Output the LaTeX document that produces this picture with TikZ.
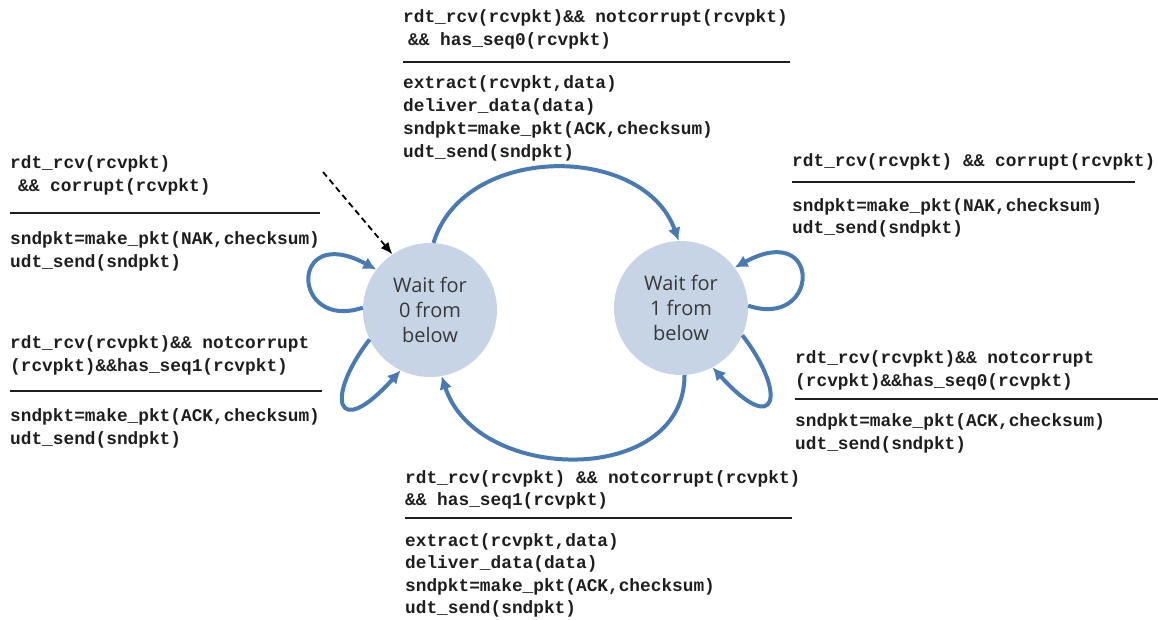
\documentclass[tikz,border=0pt]{standalone}
\usepackage{fontspec}
\setmonofont{Liberation Mono}
\newfontfamily\statefnt{Open Sans}
\usetikzlibrary{arrows.meta}
\definecolor{stfill}{RGB}{198,212,229}
\definecolor{arrc}{RGB}{72,122,180}
\definecolor{txtc}{RGB}{30,30,30}
\newcommand\lblfont{\ttfamily\bfseries\fontsize{17.8}{23}\selectfont}
\tikzset{
  lbl/.style={anchor=base west, inner sep=0pt, font=\lblfont, text=txtc},
  state/.style={circle, fill=stfill, minimum size=134pt, inner sep=0pt, align=center,
    font=\statefnt\fontsize{20}{25}\selectfont, text=black!78},
  tr/.style={draw=arrc, line width=4pt, -{Latex[length=13pt,width=13pt]}},
  initarr/.style={draw=black, line width=1.8pt, dash pattern=on 6pt off 4pt, -{Latex[length=12pt,width=10pt]}},
  rulel/.style={draw=txtc, line width=1.3pt},
}
\begin{document}
\begin{tikzpicture}[x=1pt,y=-1pt]
\useasboundingbox (0,0) rectangle (1158,619);
% states
\node[state] (s0) at (430,310) {Wait for\\0 from\\below};
\node[state] (s1) at (681,308) {Wait for\\1 from\\below};
% transitions
\draw[tr] (s0.87) .. controls +(30,-100) and +(-35,-98) .. (s1.92);
\draw[tr] (s1.-87) .. controls +(0,112) and +(35,108) .. (s0.-80);
\draw[tr] (s0.178) .. controls +(-72,24) and +(-88,-48) .. (s0.143);
\draw[tr] (s1.2) .. controls +(72,24) and +(88,-48) .. (s1.37);
\draw[tr] (s0.206) .. controls +(-45,58) and +(-65,72) .. (s0.244);
\draw[tr] (s1.-24) .. controls +(45,58) and +(65,72) .. (s1.-62);
\coordinate (init) at (323,172);
\draw[initarr] (init) -- (s0.124);
% top label
\node[lbl] (ta1) at (403,22) {rdt\_rcv(rcvpkt)\&\& notcorrupt(rcvpkt)};
\node[lbl] (ta2) at (408,45) {\&\& has\_seq0(rcvpkt)};
\draw[rulel] (403,62) -- (790,62);
\node[lbl] (ta3) at (403,88) {extract(rcvpkt,data)};
\node[lbl] (ta4) at (403,111) {deliver\_data(data)};
\node[lbl] (ta5) at (403,134) {sndpkt=make\_pkt(ACK,checksum)};
\node[lbl] (ta6) at (403,157) {udt\_send(sndpkt)};
% top right label
\node[lbl] (tb1) at (792,166) {rdt\_rcv(rcvpkt) \&\& corrupt(rcvpkt)};
\draw[rulel] (792,182) -- (1135,182);
\node[lbl] (tb2) at (792,211) {sndpkt=make\_pkt(NAK,checksum)};
\node[lbl] (tb3) at (792,233) {udt\_send(sndpkt)};
% left top label
\node[lbl] (tc1) at (10,168) {rdt\_rcv(rcvpkt)};
\node[lbl] (tc2) at (18,191) {\&\& corrupt(rcvpkt)};
\draw[rulel] (10,213) -- (320,213);
\node[lbl] (tc3) at (10,244) {sndpkt=make\_pkt(NAK,checksum)};
\node[lbl] (tc4) at (10,267) {udt\_send(sndpkt)};
% left bottom label
\node[lbl] (td1) at (10,348) {rdt\_rcv(rcvpkt)\&\& notcorrupt};
\node[lbl] (td2) at (10,371) {(rcvpkt)\&\&has\_seq1(rcvpkt)};
\draw[rulel] (10,391) -- (322,391);
\node[lbl] (td3) at (10,421) {sndpkt=make\_pkt(ACK,checksum)};
\node[lbl] (td4) at (10,444) {udt\_send(sndpkt)};
% right bottom label
\node[lbl] (te1) at (795,363) {rdt\_rcv(rcvpkt)\&\& notcorrupt};
\node[lbl] (te2) at (795,386) {(rcvpkt)\&\&has\_seq0(rcvpkt)};
\draw[rulel] (795,399) -- (1158,399);
\node[lbl] (te3) at (795,426) {sndpkt=make\_pkt(ACK,checksum)};
\node[lbl] (te4) at (795,449) {udt\_send(sndpkt)};
% bottom label
\node[lbl] (tf1) at (405,483) {rdt\_rcv(rcvpkt) \&\& notcorrupt(rcvpkt)};
\node[lbl] (tf2) at (405,505) {\&\& has\_seq1(rcvpkt)};
\draw[rulel] (405,518) -- (792,518);
\node[lbl] (tf3) at (405,546) {extract(rcvpkt,data)};
\node[lbl] (tf4) at (405,568) {deliver\_data(data)};
\node[lbl] (tf5) at (405,591) {sndpkt=make\_pkt(ACK,checksum)};
\node[lbl] (tf6) at (405,613) {udt\_send(sndpkt)};
\end{tikzpicture}
\end{document}
